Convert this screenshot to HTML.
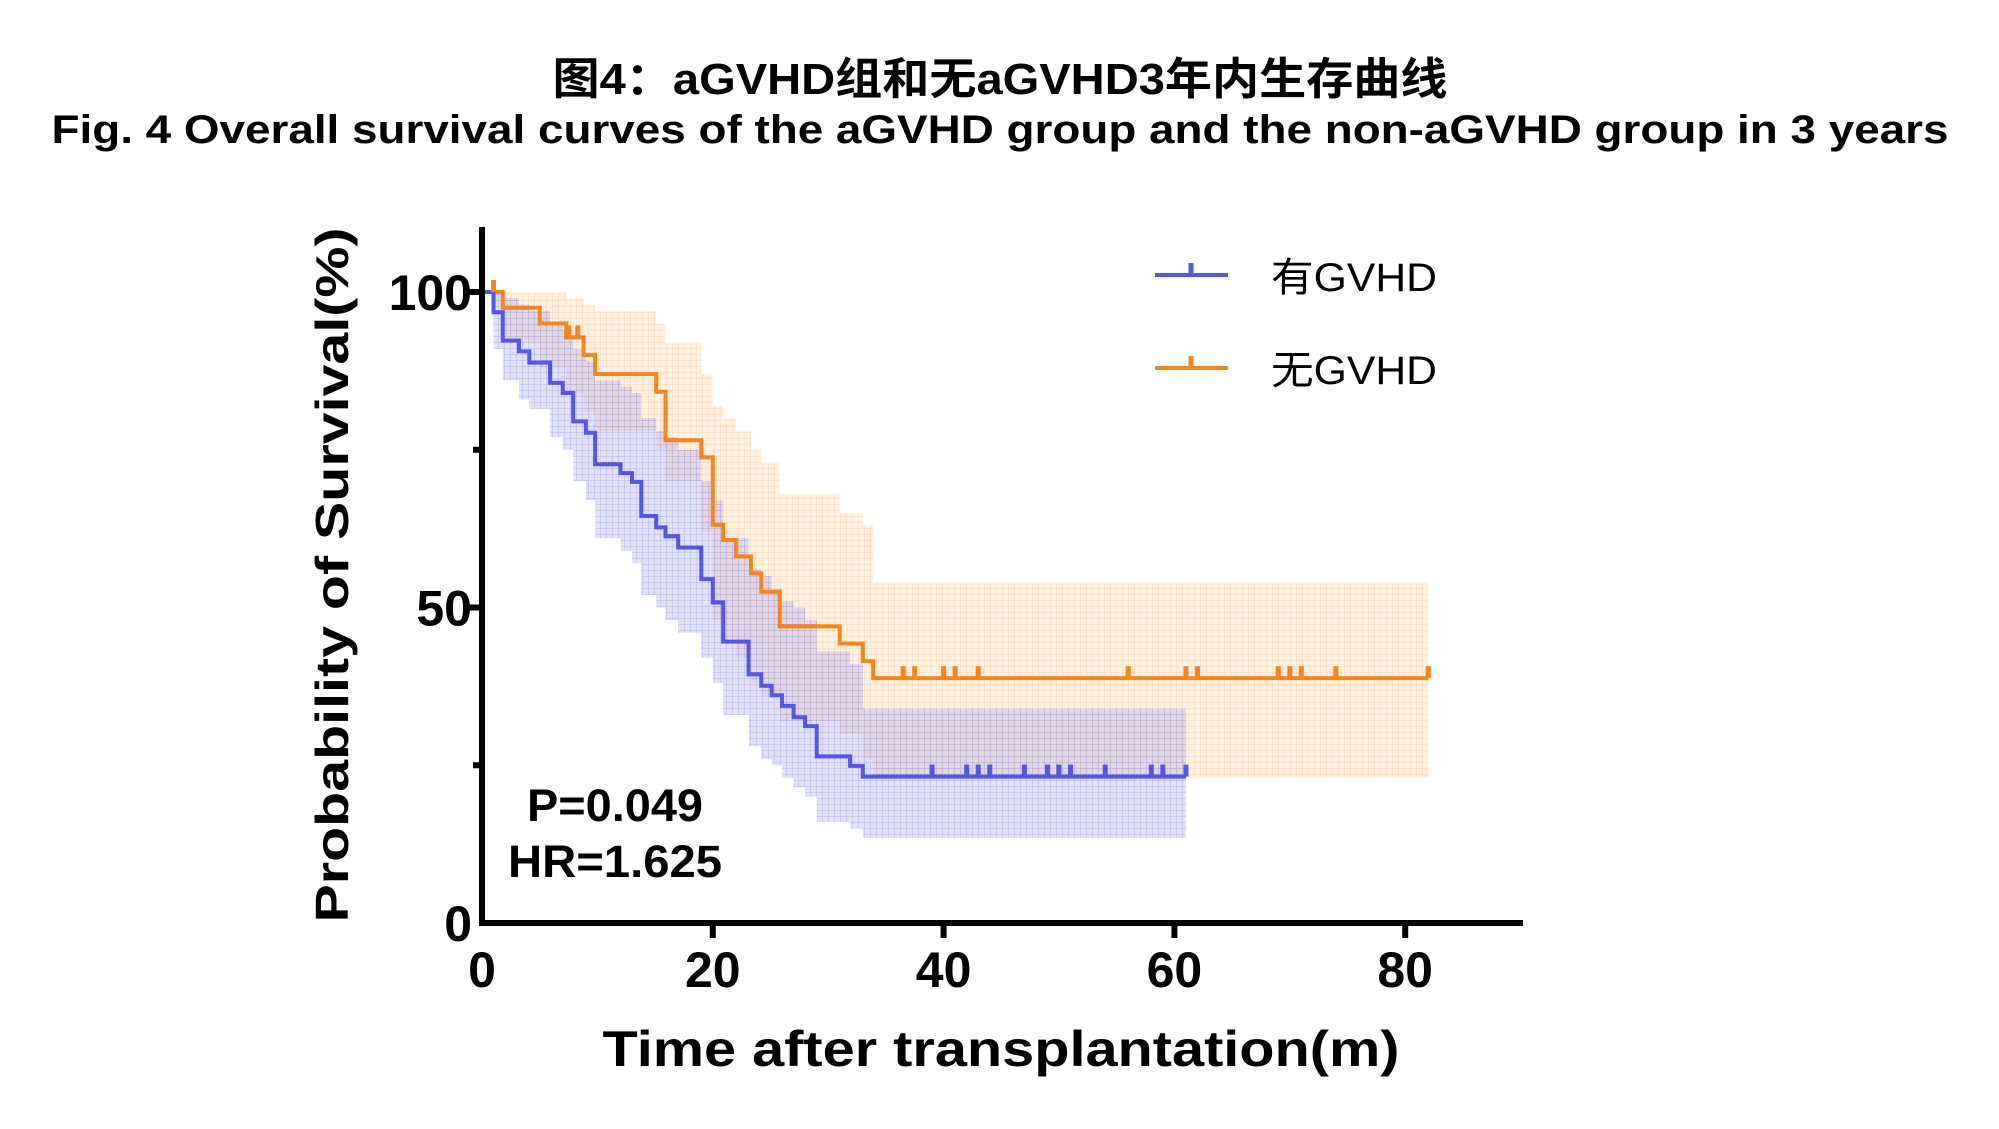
<!DOCTYPE html>
<html><head><meta charset="utf-8"><style>
html,body{margin:0;padding:0;background:#fff;}
svg{display:block;}
text{font-family:"Liberation Sans","Noto Sans CJK SC",sans-serif;}
</style></head><body>
<svg id="chart" width="1999" height="1129" viewBox="0 0 1999 1129" xmlns="http://www.w3.org/2000/svg">
<defs>
<pattern id="gridB" width="6" height="6" patternUnits="userSpaceOnUse"><rect width="6" height="6" fill="rgba(120,120,240,0.22)"/><path d="M0 0H6M0 0V6" stroke="rgba(90,90,220,0.35)" stroke-width="1"/></pattern>
<pattern id="gridO" width="6" height="6" patternUnits="userSpaceOnUse"><rect width="6" height="6" fill="rgba(255,190,120,0.22)"/><path d="M0 0H6M0 0V6" stroke="rgba(250,170,90,0.35)" stroke-width="1"/></pattern>
</defs>
<text x="1000" y="94" text-anchor="middle" font-size="44" font-weight="bold" textLength="895" lengthAdjust="spacingAndGlyphs">图4：aGVHD组和无aGVHD3年内生存曲线</text>
<text x="1000" y="143" text-anchor="middle" font-size="40" font-weight="bold" textLength="1897" lengthAdjust="spacingAndGlyphs">Fig. 4 Overall survival curves of the aGVHD group and the non-aGVHD group in 3 years</text>
<g id="bands"></g>
<g id="lines"></g>
<g id="axes"></g>
<text transform="translate(348,575) rotate(-90)" text-anchor="middle" font-size="46" font-weight="bold" textLength="695" lengthAdjust="spacingAndGlyphs">Probability of Survival(%)</text>
<text x="1001" y="1066" text-anchor="middle" font-size="50" font-weight="bold" textLength="797" lengthAdjust="spacingAndGlyphs">Time after transplantation(m)</text>
<text x="615" y="821" text-anchor="middle" font-size="45" font-weight="bold" textLength="176" lengthAdjust="spacingAndGlyphs">P=0.049</text>
<text x="615" y="877" text-anchor="middle" font-size="45" font-weight="bold" textLength="214" lengthAdjust="spacingAndGlyphs">HR=1.625</text>
<g>
<g>
<line x1="1155" y1="275" x2="1228" y2="275" stroke="#5555e6" stroke-width="4"/>
<line x1="1191" y1="275" x2="1191" y2="263" stroke="#5555e6" stroke-width="5"/>
<text x="1271" y="291" font-size="40" textLength="166" lengthAdjust="spacingAndGlyphs">有GVHD</text></g>
<g>
<line x1="1155" y1="368" x2="1228" y2="368" stroke="#f5861f" stroke-width="4"/>
<line x1="1191" y1="368" x2="1191" y2="356" stroke="#f5861f" stroke-width="5"/>
<text x="1271" y="384" font-size="40" textLength="166" lengthAdjust="spacingAndGlyphs">无GVHD</text></g>
</g>
</svg>
<script>
// Blue: 有GVHD
const blueTimes=[0,1,1.8,3.2,4.1,5.9,7,7.9,9,9.8,12,13,13.8,15.1,15.9,17,19,20,20.9,23.1,24.2,25.1,26,27,28,29,31.9,33];
const blueSurv=[100,96.8,92.3,90.6,88.8,85.6,84,79.5,77.7,72.7,71.3,69.9,64.5,62.7,61.3,59.5,54.5,50.8,44.6,39.4,37.6,36.1,34.4,32.6,31.2,26.4,24.9,23.2];
const blueUpper=[100,100,99,98,97,95,94,91,89,86,85,84,80,78,77,75,70,67,61,56,55,53,51,50,48,43,41,34];
const blueLower=[100,91,86,83,81.5,77,75,70,67,61,59,57,52,50,48,46,42,38,33,28,26,25,23,21.5,20,16,15,13.5];
const blueEnd=61;
const blueCensor=[39,42,43,44,47,49,50,51,54,58,59,61];
// Orange: 无GVHD
const orangeTimes=[0,1.8,5,7.3,8.8,9.8,15.1,15.9,19,20,20.9,22,23.3,24.2,25.8,31,33,33.9];
const orangeSurv=[100,97.5,95,92.8,90,87,84.2,76.5,73.8,63.1,60.7,58.1,55.4,52.5,47,44.3,41.5,38.8];
const orangeUpper=[100,100,100,99,98,97,95,92,87,82,80,78,75,73,68,65,63,54];
const orangeLower=[100,92,88,84,81,78,75,70,62,48,45,42,38,36,32,30,26,23];
const orangeEnd=82;
const orangeCensor=[1,7.5,8.3,36.5,37.5,40,41,43,56,61,62,69,70,71,74,82];
const xTicks=[0,20,40,60,80];
const yTicks=[0,50,100];
const yMinor=[25,75];

const NS="http://www.w3.org/2000/svg";
const X=t=>482+t*11.54;
const Y=s=>923-s*6.31;
function mk(tag,attrs,parent){const e=document.createElementNS(NS,tag);for(const k in attrs)e.setAttribute(k,attrs[k]);parent.appendChild(e);return e;}
function stepPath(ts,vs,end){let d=`M${X(ts[0])},${Y(vs[0])}`;for(let i=1;i<ts.length;i++){d+=`H${X(ts[i])}V${Y(vs[i])}`;}d+=`H${X(end)}`;return d;}
function bandPath(ts,up,lo,end){let d=`M${X(ts[0])},${Y(up[0])}`;for(let i=1;i<ts.length;i++){d+=`H${X(ts[i])}V${Y(up[i])}`;}d+=`H${X(end)}V${Y(lo[lo.length-1])}`;for(let i=ts.length-1;i>=1;i--){d+=`H${X(ts[i])}V${Y(lo[i-1])}`;}d+=`H${X(ts[0])}Z`;return d;}
function survAt(ts,vs,t){let v=vs[0];for(let i=0;i<ts.length;i++){if(ts[i]<=t)v=vs[i];}return v;}
const bands=document.getElementById('bands');
const lines=document.getElementById('lines');
const axes=document.getElementById('axes');

const ob=mk('path',{d:bandPath(orangeTimes,orangeUpper,orangeLower,orangeEnd),fill:'url(#gridO)'},bands);


const bb=mk('path',{d:bandPath(blueTimes,blueUpper,blueLower,blueEnd),fill:'url(#gridB)'},bands);



const ol=mk('path',{d:stepPath(orangeTimes,orangeSurv,orangeEnd),fill:'none',stroke:'#f5861f','stroke-width':4},lines);


const bl=mk('path',{d:stepPath(blueTimes,blueSurv,blueEnd),fill:'none',stroke:'#5555e6','stroke-width':4},lines);



orangeCensor.forEach(t=>{const y=Y(survAt(orangeTimes,orangeSurv,t));const c=mk('line',{x1:X(t),x2:X(t),y1:y,y2:y-12,stroke:'#f5861f','stroke-width':5},lines);

});
blueCensor.forEach(t=>{const y=Y(survAt(blueTimes,blueSurv,t));const c=mk('line',{x1:X(t),x2:X(t),y1:y,y2:y-12,stroke:'#5555e6','stroke-width':5},lines);

});

const ya=mk('line',{x1:482,x2:482,y1:227,y2:926,stroke:'#000','stroke-width':6},axes);


const xa=mk('line',{x1:479,x2:1523,y1:923,y2:923,stroke:'#000','stroke-width':6},axes);


xTicks.forEach(t=>{
 if(t>0){const tk=mk('line',{x1:X(t),x2:X(t),y1:923,y2:938,stroke:'#000','stroke-width':6},axes);
 
 }
 const lb=mk('text',{x:X(t),y:987,'text-anchor':'middle','font-size':50,'font-weight':'bold'},axes);lb.textContent=t;
 
 
});
yTicks.forEach(s=>{
 if(s>0){const tk=mk('line',{x1:467,x2:482,y1:Y(s),y2:Y(s),stroke:'#000','stroke-width':6},axes);
 
 }
 const lb=mk('text',{x:s===0?472:472,y:Y(s)+18,'text-anchor':'end','font-size':50,'font-weight':'bold'},axes);lb.textContent=s;
 
 
});
yMinor.forEach(s=>{const tk=mk('line',{x1:473,x2:482,y1:Y(s),y2:Y(s),stroke:'#000','stroke-width':6},axes);
 
 });
</script>
</body></html>
